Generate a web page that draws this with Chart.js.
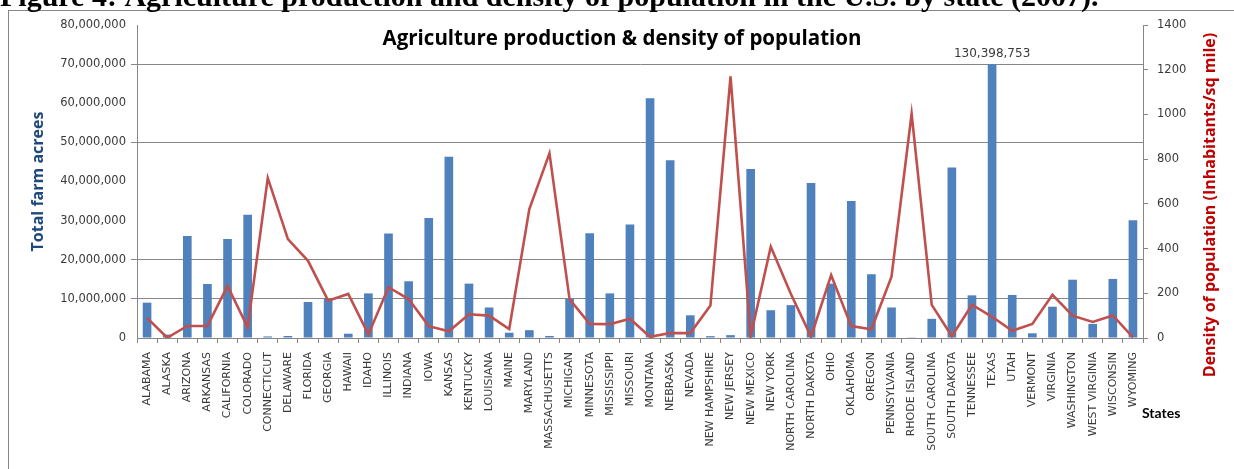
<!DOCTYPE html>
<html>
<head>
<meta charset="utf-8">
<title>Agriculture production &amp; density of population</title>
<script src="https://cdn.jsdelivr.net/npm/chart.js@4.4.1/dist/chart.umd.min.js"></script>
<style>
  html, body { margin: 0; padding: 0; background: #fff; }
  #wrap { width: 1234px; height: 469px; overflow: hidden; }
</style>
</head>
<body>
<div id="wrap"><canvas id="myChart" width="1234" height="469"></canvas></div>
<script>
// Data
const states = ["ALABAMA", "ALASKA", "ARIZONA", "ARKANSAS", "CALIFORNIA", "COLORADO", "CONNECTICUT",
  "DELAWARE", "FLORIDA", "GEORGIA", "HAWAII", "IDAHO", "ILLINOIS", "INDIANA", "IOWA", "KANSAS",
  "KENTUCKY", "LOUISIANA", "MAINE", "MARYLAND", "MASSACHUSETTS", "MICHIGAN", "MINNESOTA",
  "MISSISSIPPI", "MISSOURI", "MONTANA", "NEBRASKA", "NEVADA", "NEW HAMPSHIRE", "NEW JERSEY",
  "NEW MEXICO", "NEW YORK", "NORTH CAROLINA", "NORTH DAKOTA", "OHIO", "OKLAHOMA", "OREGON",
  "PENNSYLVANIA", "RHODE ISLAND", "SOUTH CAROLINA", "SOUTH DAKOTA", "TENNESSEE", "TEXAS", "UTAH",
  "VERMONT", "VIRGINIA", "WASHINGTON", "WEST VIRGINIA", "WISCONSIN", "WYOMING"];

const farmAcres = [9030000, 880000, 26100000, 13800000, 25300000, 31500000, 400000,
  510000, 9200000, 10100000, 1100000, 11400000, 26700000, 14500000, 30700000, 46300000,
  13900000, 7800000, 1350000, 2000000, 520000, 10000000, 26800000,
  11400000, 29000000, 61300000, 45400000, 5800000, 470000, 730000,
  43200000, 7100000, 8400000, 39600000, 13900000, 35000000, 16300000,
  7800000, 70000, 4900000, 43600000, 10900000, 130398753, 11000000,
  1200000, 8000000, 14900000, 3600000, 15100000, 30100000];

const density = [90, 1, 54, 54, 233, 48, 716,
  442, 345, 167, 197, 16, 227, 174, 53, 30,
  106, 100, 40, 577, 826, 173, 63,
  62, 86, 5, 22, 22, 145, 1170,
  8, 408, 197, 6, 281, 53, 39,
  274, 1003, 148, 8, 149, 95, 32,
  63, 193, 100, 72, 101, 3];

const acreTicks = [0, 10000000, 20000000, 30000000, 40000000, 50000000, 60000000, 70000000, 80000000];
const densityTicks = [0, 200, 400, 600, 800, 1000, 1200, 1400];

// bars taller than this are drawn broken off, with their value written on top
const barCap = 70000000;

const caption = "Figure 4: Agriculture production and density of population in the U.S. by state (2007).";
const chartTitle = "Agriculture production & density of population";

Chart.defaults.font.family = "'DejaVu Sans', sans-serif";
Chart.defaults.color = "#3a3a3a";

// gridlines that survived in the picture
const gridShown = [10000000, 20000000, 50000000, 70000000];
const gridColor = (ctx) => (ctx.tick && gridShown.includes(ctx.tick.value) ? "#868686" : "rgba(0,0,0,0)");

const extras = {
  id: "extras",
  beforeDraw(chart) {
    const c = chart.ctx;
    c.save();
    c.fillStyle = "#fff";
    c.fillRect(0, 0, chart.width, chart.height);
    // chart frame (cut off right and bottom)
    c.strokeStyle = "#868686";
    c.lineWidth = 1;
    c.strokeRect(8.5, 10.5, 1400, 800);
    c.restore();
  },
  afterDraw(chart) {
    const c = chart.ctx;
    c.save();
    // figure caption, cut by the top edge
    c.fillStyle = "#000";
    c.font = "bold 30px 'Liberation Serif', serif";
    c.textAlign = "left";
    c.textBaseline = "alphabetic";
    c.fillText(caption, 0, 6);

    // chart title
    c.font = "bold 20.5px 'Open Sans', sans-serif";
    c.textAlign = "center";
    c.fillText(chartTitle, 622, 45);

    // x axis title
    c.font = "bold 14px Lato, sans-serif";
    c.textAlign = "left";
    c.fillText("States", 1142, 418);

    // right axis title (reads bottom to top)
    c.save();
    c.translate(1210, 205);
    c.rotate(-Math.PI / 2);
    c.fillStyle = "#C00000";
    c.font = "bold 16px 'Open Sans', sans-serif";
    c.textAlign = "center";
    c.textBaseline = "middle";
    c.fillText("Density of population (Inhabitants/sq mile)", 0, 0);
    c.restore();

    // labels for broken bars
    const meta = chart.getDatasetMeta(1);
    c.font = "12px 'DejaVu Sans', sans-serif";
    c.fillStyle = "#3a3a3a";
    c.textAlign = "center";
    farmAcres.forEach((v, i) => {
      if (v > barCap) {
        const bar = meta.data[i];
        c.fillText(v.toLocaleString("en-US"), bar.x, bar.y - 7);
      }
    });
    c.restore();
  }
};

const ctx = document.getElementById("myChart").getContext("2d");
const myChart = new Chart(ctx, {
  type: "bar",
  data: {
    labels: states,
    datasets: [
      {
        type: "line",
        label: "Density of population",
        data: density,
        yAxisID: "y1",
        borderColor: "#C0504D",
        borderWidth: 2.6,
        pointRadius: 0,
        tension: 0,
        fill: false,
        order: 0
      },
      {
        type: "bar",
        label: "Total farm acres",
        data: farmAcres.map((v) => Math.min(v, barCap)),
        yAxisID: "y",
        backgroundColor: "#4F81BD",
        categoryPercentage: 1,
        barPercentage: 0.43,
        order: 1
      }
    ]
  },
  options: {
    responsive: false,
    animation: false,
    layout: { padding: { top: 25, left: 0, right: 0, bottom: 0 } },
    plugins: {
      legend: { display: false },
      tooltip: { enabled: false }
    },
    scales: {
      x: {
        offset: true,
        grid: { offset: true, drawOnChartArea: false, drawTicks: true, tickLength: 5, color: "#868686" },
        border: { color: "#868686" },
        ticks: {
          autoSkip: false,
          minRotation: 90,
          maxRotation: 90,
          padding: 9,
          font: { size: 11 }
        },
        afterFit(scale) { scale.height = 131; }
      },
      y: {
        position: "left",
        min: 0,
        max: 80000000,
        afterBuildTicks(scale) { scale.ticks = acreTicks.map((v) => ({ value: v })); },
        grid: { color: gridColor, tickColor: gridColor, tickLength: 6 },
        border: { color: "#868686" },
        ticks: {
          padding: 5,
          font: { size: 11.5 },
          callback: (v) => v.toLocaleString("en-US")
        },
        title: {
          display: true,
          text: "Total farm acrees",
          color: "#1F497D",
          font: { family: "'Open Sans', sans-serif", size: 16, weight: "bold" },
          padding: { top: 29, bottom: 0 }
        },
        afterFit(scale) { scale.width = 137; }
      },
      y1: {
        position: "right",
        min: 0,
        max: 1400,
        afterBuildTicks(scale) { scale.ticks = densityTicks.map((v) => ({ value: v })); },
        grid: { drawOnChartArea: false, tickLength: 5, color: "#868686" },
        border: { color: "#868686" },
        ticks: { padding: 9, font: { size: 11.5 }, callback: (v) => String(v) },
        afterFit(scale) { scale.width = 91; }
      }
    }
  },
  plugins: [extras]
});
</script>
</body>
</html>
